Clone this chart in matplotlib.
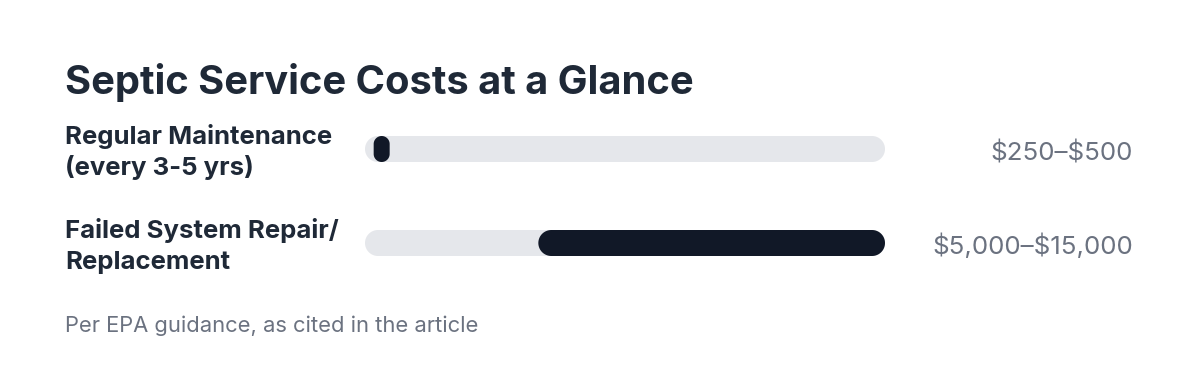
import numpy as np
import matplotlib
matplotlib.use("Agg")
import matplotlib.pyplot as plt
from matplotlib.patches import Polygon
from matplotlib.transforms import blended_transform_factory, IdentityTransform

plt.rcParams['font.family'] = ['Inter', 'DejaVu Sans']

# data
labels = ["Regular Maintenance\n(every 3-5 yrs)", "Failed System Repair/\nReplacement"]
lows = [250, 5000]
highs = [500, 15000]
value_labels = [r"\$250–\$500", r"\$5,000–\$15,000"]
scale_max = 15000

title = "Septic Service Costs at a Glance"
note = "Per EPA guidance, as cited in the article"

W, H, DPI = 1200, 382, 100
fig = plt.figure(figsize=(W / DPI, H / DPI), dpi=DPI)
fig.patch.set_facecolor("white")

# axes spanning the track area
ax_l, ax_r, ax_t, ax_b = 365, 885, 100, 290
ax = fig.add_axes([ax_l / W, (H - ax_b) / H, (ax_r - ax_l) / W, (ax_b - ax_t) / H])
row_px = 94.0
ytop = -(149 - ax_t) / row_px
ybot = 1 + (ax_b - 243) / row_px
ax.set_xlim(0, scale_max)
ax.set_ylim(ybot, ytop)
ax.axis("off")

bar_px = 26     # bar thickness in pixels
min_px = 16     # shortest visible pill


def stadium(x0, y0, w, h, n=24):
    # outline of a fully rounded box (pixels)
    r = min(w, h) / 2
    cx0, cx1 = x0 + r, x0 + w - r
    cy0, cy1 = y0 + r, y0 + h - r
    pts = []
    for (cx, cy, a0) in [(cx1, cy0, -90), (cx1, cy1, 0), (cx0, cy1, 90), (cx0, cy0, 180)]:
        a = np.radians(np.linspace(a0, a0 + 90, n))
        pts += list(zip(cx + r * np.cos(a), cy + r * np.sin(a)))
    return pts


def pill(x0, x1, yc, color):
    # map data -> display pixels, then draw the rounded bar there
    (px0, py), (px1, _) = ax.transData.transform([(x0, yc), (x1, yc)])
    if px1 - px0 < min_px:
        px1 = px0 + min_px
    p = Polygon(stadium(px0, py - bar_px / 2, px1 - px0, bar_px), closed=True,
                linewidth=0, facecolor=color, transform=IdentityTransform(),
                clip_on=False)
    fig.add_artist(p)


lab_tr = blended_transform_factory(fig.transFigure, ax.transData)
for i, (lab, lo, hi, vl) in enumerate(zip(labels, lows, highs, value_labels)):
    pill(0, scale_max, i, "#e5e7eb")
    pill(lo, hi, i, "#111827")
    for k, line in enumerate(lab.split("\n")):
        ax.text(65 / W, i + (-5 + 31 * k) / row_px, line, transform=lab_tr,
                ha="left", va="baseline", fontsize=18.5, fontweight="bold",
                color="#1f2937")
    ax.text(1133 / W, i + 11.5 / row_px, vl, transform=lab_tr, ha="right",
            va="baseline", fontsize=18.7, color="#6b7280")

fig.text(65 / W, 1 - 94 / H, title, ha="left", va="baseline",
         fontsize=28.7, fontweight="bold", color="#1f2937")
fig.text(65 / W, 1 - 332 / H, note, ha="left", va="baseline",
         fontsize=15.8, color="#6b7280")

fig.savefig("out.png", dpi=DPI, facecolor="white")
